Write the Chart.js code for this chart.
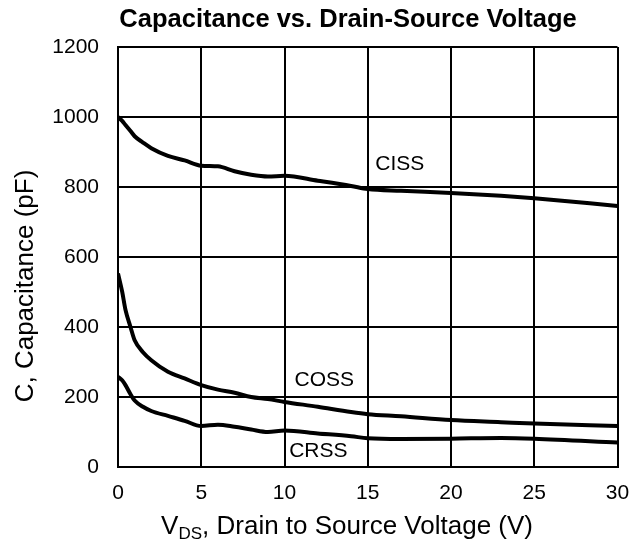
<!DOCTYPE html>
<html>
<head>
<meta charset="utf-8">
<script src="https://cdn.jsdelivr.net/npm/chart.js@4/dist/chart.umd.min.js"></script>
<style>
  html, body { margin: 0; padding: 0; background: #fff; }
  #wrap { width: 629px; height: 549px; }
</style>
</head>
<body>
<div id="wrap"><canvas id="capChart"></canvas></div>
<script>
// Data

const vds  = [0, 0.25, 0.45, 0.75, 1, 1.5, 2, 3, 4, 5, 6, 7, 8, 9, 10, 12, 14, 15, 17, 20, 23, 25, 30];
const ciss = [1000, 989, 977, 960, 945, 927, 911, 889, 876, 861, 859, 845, 835, 830, 832, 818, 803, 794, 789, 783, 775, 768, 746];
const coss = [553, 501, 449, 400, 362, 328, 305, 272, 253, 234, 221, 212, 200, 194, 186, 172, 157, 151, 145, 134, 128, 124, 117];
const crss = [258, 248, 234, 208, 190, 172, 160, 146, 132, 117, 121, 115, 107, 100, 104, 96, 88, 82, 80, 81, 83, 81, 70];

const xTicks = [0, 5, 10, 15, 20, 25, 30];
const yTicks = [0, 200, 400, 600, 800, 1000, 1200];

// curve labels: [text, vds, capacitance]
const curveLabels = [
  ["CISS", 16.92, 865],
  ["COSS", 12.39, 248],
  ["CRSS", 12.03, 45]
];

const FONT = "'Liberation Sans', Arial, Helvetica, sans-serif";

function toPoints(ys){
  return vds.map((x, i) => ({ x: x, y: ys[i] }));
}

function lineSet(label, ys){
  return {
    label: label,
    data: toPoints(ys),
    borderColor: "#000",
    borderWidth: 4,
    pointRadius: 0,
    cubicInterpolationMode: "monotone",
    fill: false
  };
}

// Titles and curve labels drawn by hand
const textPlugin = {
  id: "textPlugin",
  afterDraw(chart){
    const c = chart.ctx;
    const xs = chart.scales.x;
    const ys = chart.scales.y;
    c.save();
    c.fillStyle = "#000";
    c.textBaseline = "middle";

    // chart title
    c.font = "bold 25.5px " + FONT;
    c.textAlign = "center";
    c.fillText("Capacitance vs. Drain-Source Voltage", 348, 20);

    // curve labels
    c.font = "21px " + FONT;
    curveLabels.forEach(l => {
      c.fillText(l[0], xs.getPixelForValue(l[1]), ys.getPixelForValue(l[2]));
    });

    // x axis title with subscript
    c.textAlign = "left";
    c.textBaseline = "alphabetic";
    const base = 534;
    const main = ", Drain to Source Voltage (V)";
    c.font = "26px " + FONT;
    const wV = c.measureText("V").width;
    const wMain = c.measureText(main).width;
    c.font = "17px " + FONT;
    const wSub = c.measureText("DS").width;
    let x0 = 533 - (wV + wSub + wMain);
    c.font = "26px " + FONT;
    c.fillText("V", x0, base);
    c.font = "17px " + FONT;
    c.fillText("DS", x0 + wV, base + 5);
    c.font = "26px " + FONT;
    c.fillText(main, x0 + wV + wSub, base);

    // y axis title
    c.translate(33, 286);
    c.rotate(-Math.PI / 2);
    c.textAlign = "center";
    c.fillText("C, Capacitance (pF)", 0, 0);
    c.restore();
  }
};

const ctx = document.getElementById("capChart");

new Chart(ctx, {
  type: "line",
  data: {
    datasets: [
      lineSet("CISS", ciss),
      lineSet("COSS", coss),
      lineSet("CRSS", crss)
    ]
  },
  options: {
    responsive: true,
    maintainAspectRatio: false,
    animation: false,
    layout: {
      padding: { top: 47, right: 0, bottom: 0, left: 0 }
    },
    plugins: {
      legend: { display: false },
      tooltip: { enabled: false }
    },
    scales: {
      x: {
        type: "linear",
        min: 0,
        max: 30,
        afterBuildTicks(scale){
          scale.ticks = xTicks.map(v => ({ value: v }));
        },
        afterFit(scale){
          scale.height = 82;
          scale.paddingLeft = 0;
          scale.paddingRight = 11.5;
        },
        grid: { color: "#000", lineWidth: 2, drawTicks: false },
        border: { color: "#000", width: 2 },
        ticks: {
          color: "#000",
          font: { family: FONT, size: 21 },
          padding: 14,
          maxRotation: 0
        }
      },
      y: {
        min: 0,
        max: 1200,
        afterBuildTicks(scale){
          scale.ticks = yTicks.map(v => ({ value: v }));
        },
        afterFit(scale){
          scale.width = 118;
        },
        grid: { color: "#000", lineWidth: 2, drawTicks: false },
        border: { color: "#000", width: 2 },
        ticks: {
          color: "#000",
          font: { family: FONT, size: 21 },
          padding: 19,
          callback: v => String(v)
        }
      }
    }
  },
  plugins: [textPlugin]
});
</script>
</body>
</html>
